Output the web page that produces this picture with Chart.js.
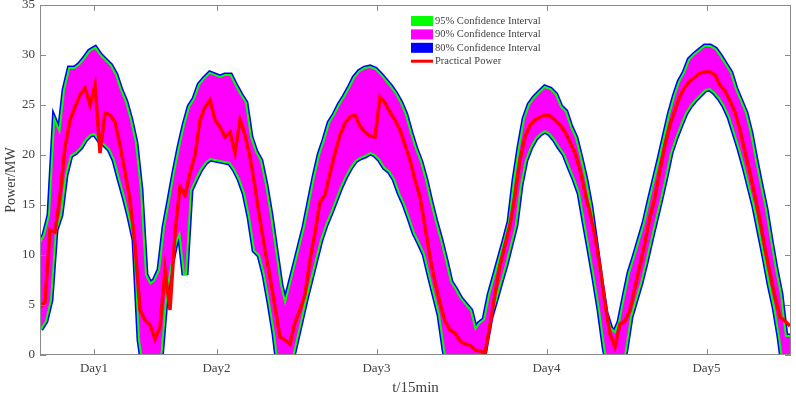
<!DOCTYPE html>
<html>
<head>
<meta charset="utf-8">
<script src="https://cdn.jsdelivr.net/npm/chart.js@4.4.1/dist/chart.umd.min.js"></script>
<style>
  html, body { margin: 0; padding: 0; background: #fff; }
</style>
</head>
<body>
<canvas id="powerChart" width="796" height="397"></canvas>
<script>
// sample index = one step of the x axis (t/15min, nights removed)
const dayLabels = ['Day1', 'Day2', 'Day3', 'Day4', 'Day5'];
const dayTickPos = [10.8, 35.3, 67.3, 101.3, 133.3];
const yTicks = [0, 5, 10, 15, 20, 25, 30, 35];

// upper edge of the confidence band
const upperBound = [
  11.0, 12.0, 14.0, 23.2, 22.0, 26.5, 28.6, 28.6, 29.0, 29.6,
  30.3, 30.6, 29.9, 29.4, 28.9, 28.0, 26.5, 25.3, 23.5, 21.2,
  16.5, 8.0, 7.0, 7.4, 8.5, 12.8, 15.5, 18.3, 20.8, 23.0,
  24.8, 25.6, 27.0, 27.6, 28.1, 27.9, 27.7, 27.9, 27.9, 26.9,
  26.0, 25.2, 21.8, 20.3, 19.4, 17.0, 14.0, 10.5, 7.0, 4.9,
  6.8, 8.8, 10.8, 12.8, 15.3, 17.8, 20.0, 21.5, 23.2, 24.0,
  25.0, 25.8, 26.7, 27.7, 28.3, 28.6, 28.7, 28.5, 28.0, 27.4,
  26.8, 26.1, 25.2, 24.0, 22.2, 20.6, 19.3, 17.5, 15.3, 13.3,
  11.5, 9.5, 7.3, 6.5, 5.6, 5.0, 4.4, 2.4, 3.1, 3.5,
  6.0, 7.8, 9.6, 11.4, 13.3, 17.5, 20.8, 23.6, 25.0, 25.7,
  26.2, 26.7, 26.5, 26.0, 24.8, 24.3, 22.8, 21.7, 19.7, 17.5,
  14.8, 11.2, 7.5, 4.2, 2.6, 2.1, 3.3, 5.8, 8.2, 9.8,
  11.5, 13.2, 15.4, 17.5, 19.6, 21.8, 24.0, 25.8, 27.3, 28.2,
  29.5, 30.0, 30.4, 30.8, 30.8, 30.5, 29.8, 29.0, 28.2, 26.6,
  25.4, 24.2, 22.2, 19.5, 17.0, 14.6, 11.5, 8.6, 6.1, 1.8,
  1.8
];

// lower edge of the confidence band
const lowerBound = [
  2.6, 3.4, 5.5, 12.5, 14.0, 18.0, 20.0, 20.3, 20.8, 21.6,
  22.1, 22.2, 21.5, 21.1, 20.6, 19.5, 17.6, 15.8, 13.8, 11.5,
  1.5, -2, -2, -2, -0.5, 5.5, 8.8, 11.2, 12.5, 8.0,
  16.5, 17.6, 18.6, 19.3, 19.7, 19.6, 19.5, 19.4, 19.3, 18.6,
  17.6, 16.2, 13.8, 10.5, 10.0, 8.0, 5.2, 2.1, -2, -3,
  -1, 1.1, 3.3, 5.5, 7.5, 9.5, 11.5, 13.0, 14.2, 15.5,
  16.8, 17.9, 18.8, 19.5, 19.8, 20.0, 20.3, 20.1, 19.6, 18.8,
  18.4, 17.6, 16.2, 15.1, 13.7, 12.2, 11.2, 10.1, 8.0, 6.0,
  4.0, 0.5, -2, -2, -2, -2, -2, -2, -2, 1.0,
  3.8, 5.5, 7.3, 9.0, 11.0, 13.0, 17.0, 19.5, 20.8, 21.7,
  22.2, 22.5, 22.2, 21.6, 20.8, 20.1, 18.8, 17.6, 16.2, 13.3,
  10.5, 7.6, 4.5, 0.8, -2, -3, -2, 0.5, 3.8, 5.5,
  7.2, 9.2, 11.4, 13.5, 15.6, 17.8, 20.2, 21.7, 23.0, 24.2,
  25.0, 25.6, 26.1, 26.6, 26.7, 26.3, 25.7, 24.9, 23.8, 22.2,
  20.6, 18.8, 16.8, 14.8, 12.3, 9.8, 7.1, 4.8, 1.8, -2,
  -2
];

// measured power
const practicalPower = [
  4.8, 5.3, 12.5, 12.3, 16.0, 20.8, 23.5, 24.8, 26.0, 26.7,
  25.0, 27.0, 20.2, 24.2, 24.0, 23.3, 21.0, 18.3, 15.5, 11.0,
  4.5, 3.5, 3.0, 1.6, 2.8, 8.5, 4.5, 12.2, 16.8, 16.0,
  18.2, 20.0, 23.5, 24.8, 25.5, 23.5, 22.8, 21.8, 22.3, 20.2,
  23.5, 22.0, 19.8, 16.8, 13.5, 10.5, 7.8, 4.8, 1.8, 1.5,
  1.1, 3.3, 4.5, 6.1, 9.5, 12.3, 15.3, 16.0, 18.2, 20.2,
  22.0, 23.2, 23.8, 24.0, 22.9, 22.3, 21.9, 21.8, 25.8, 25.2,
  24.3, 23.5, 22.5, 21.0, 19.5, 17.5, 15.8, 12.8, 9.8, 7.3,
  5.2, 3.4, 2.5, 2.2, 1.4, 1.1, 1.0, 0.5, 0.4, 0.2,
  3.0, 6.1, 9.0, 11.0, 13.0, 16.0, 19.5, 21.8, 23.0, 23.5,
  23.8, 24.0, 23.9, 23.5, 23.0, 22.3, 21.3, 20.2, 18.5, 16.2,
  14.2, 11.8, 8.8, 5.2, 2.1, 0.8, 3.1, 3.4, 4.5, 6.8,
  9.0, 11.3, 13.8, 15.8, 18.5, 21.0, 23.0, 24.5, 25.9, 26.8,
  27.4, 27.8, 28.2, 28.3, 28.3, 28.0, 27.0, 26.4, 25.4, 24.3,
  22.5, 20.3, 18.2, 15.9, 13.5, 10.6, 8.2, 5.8, 3.8, 3.4,
  2.9
];

const legendItems = [
  { text: '95% Confidence Interval', color: '#00ff00', line: false },
  { text: '90% Confidence Interval', color: '#ff00ff', line: false },
  { text: '80% Confidence Interval', color: '#0000ff', line: false },
  { text: 'Practical Power', color: '#ff0000', line: true }
];

function toPoints(arr) {
  return arr.map((v, i) => ({ x: i, y: v }));
}

function edgeLine(arr, color, width, order) {
  return {
    data: toPoints(arr),
    borderColor: color,
    borderWidth: width,
    pointRadius: 0,
    tension: 0,
    fill: false,
    order: order
  };
}

const frameColor = '#8a8a8a';
const textColor = '#404040';

// box around the plot + inward ticks on all sides
const framePlugin = {
  id: 'frame',
  afterDraw(chart) {
    const { ctx, chartArea: a, scales } = chart;
    ctx.save();
    ctx.strokeStyle = frameColor;
    ctx.lineWidth = 1;
    ctx.strokeRect(Math.round(a.left) + 0.5, Math.round(a.top) + 0.5,
      Math.round(a.right - a.left) - 1, Math.round(a.bottom - a.top) - 1);
    ctx.beginPath();
    dayTickPos.forEach(v => {
      const x = Math.round(scales.x.getPixelForValue(v)) + 0.5;
      ctx.moveTo(x, a.bottom); ctx.lineTo(x, a.bottom - 6);
      ctx.moveTo(x, a.top); ctx.lineTo(x, a.top + 6);
    });
    yTicks.forEach(v => {
      const y = Math.round(scales.y.getPixelForValue(v)) + 0.5;
      ctx.moveTo(a.left, y); ctx.lineTo(a.left + 6, y);
      ctx.moveTo(a.right, y); ctx.lineTo(a.right - 6, y);
    });
    ctx.stroke();
    ctx.restore();
  }
};

const legendPlugin = {
  id: 'ciLegend',
  afterDraw(chart) {
    const ctx = chart.ctx;
    ctx.save();
    ctx.font = '10.5px "Liberation Serif"';
    ctx.textBaseline = 'middle';
    legendItems.forEach((item, i) => {
      const y = 21 + i * 13.4;
      ctx.fillStyle = item.color;
      if (item.line) ctx.fillRect(411, y - 1.5, 22, 3);
      else ctx.fillRect(411, y - 5, 22, 10);
      ctx.fillStyle = textColor;
      ctx.fillText(item.text, 435, y);
    });
    ctx.restore();
  }
};

const data = {
  datasets: [
    {
      data: toPoints(practicalPower),
      borderColor: '#ff0000',
      borderWidth: 3.5,
      pointRadius: 0,
      tension: 0,
      fill: false,
      order: 0
    },
    {
      data: toPoints(upperBound),
      borderWidth: 0,
      borderColor: 'rgba(0,0,0,0)',
      backgroundColor: '#ff00ff',
      pointRadius: 0,
      tension: 0,
      fill: '+1',
      order: 1
    },
    {
      data: toPoints(lowerBound),
      borderWidth: 0,
      borderColor: 'rgba(0,0,0,0)',
      pointRadius: 0,
      tension: 0,
      fill: false,
      order: 1
    },
    edgeLine(upperBound, '#00ff00', 4, 3),
    edgeLine(lowerBound, '#00ff00', 4, 3),
    edgeLine(upperBound, '#0000ff', 7, 4),
    edgeLine(lowerBound, '#0000ff', 7, 4)
  ]
};

const config = {
  type: 'line',
  data: data,
  options: {
    responsive: false,
    animation: false,
    devicePixelRatio: 1,
    layout: { padding: { top: 5, right: 5, left: 0, bottom: 0 } },
    plugins: {
      legend: { display: false },
      tooltip: { enabled: false },
      filler: { drawTime: 'beforeDatasetDraw' }
    },
    scales: {
      x: {
        type: 'linear',
        min: 0,
        max: 150.2,
        afterBuildTicks: scale => {
          scale.ticks = dayTickPos.map(v => ({ value: v }));
        },
        afterFit: scale => {
          scale.height = 42;
          scale.paddingLeft = 0;
          scale.paddingRight = 0;
        },
        grid: { display: false, drawTicks: false },
        border: { display: false },
        ticks: {
          autoSkip: false,
          maxRotation: 0,
          padding: 6,
          color: textColor,
          font: { family: 'Liberation Serif', size: 13 },
          callback: (v, i) => dayLabels[i]
        },
        title: {
          display: true,
          text: 't/15min',
          color: textColor,
          padding: { top: 0, bottom: 0 },
          font: { family: 'Liberation Serif', size: 15 }
        }
      },
      y: {
        min: 0,
        max: 35,
        afterFit: scale => {
          scale.width = 40;
          scale.paddingTop = 0;
          scale.paddingBottom = 0;
        },
        grid: { display: false, drawTicks: false },
        border: { display: false },
        ticks: {
          stepSize: 5,
          padding: 5,
          color: textColor,
          font: { family: 'Liberation Serif', size: 13 }
        },
        title: {
          display: true,
          text: 'Power/MW',
          color: textColor,
          padding: { top: 3, bottom: 0 },
          font: { family: 'Liberation Serif', size: 14 }
        }
      }
    }
  },
  plugins: [framePlugin, legendPlugin]
};

const powerChart = new Chart(document.getElementById('powerChart'), config);
</script>
</body>
</html>
